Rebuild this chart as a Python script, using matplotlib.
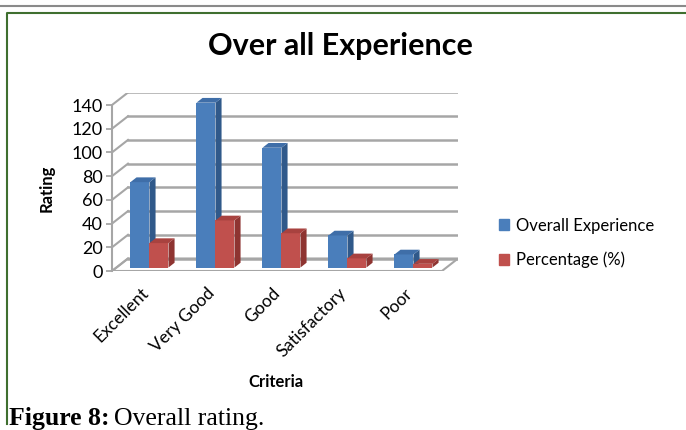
import matplotlib
matplotlib.use('Agg')
import matplotlib.pyplot as plt
from matplotlib.patches import Polygon, Patch
from matplotlib.lines import Line2D

# ---- data ----
categories = ['Excellent', 'Very Good', 'Good', 'Satisfactory', 'Poor']
overall = [72, 139, 101, 27, 11]
percentage = [20.6, 39.7, 28.9, 7.7, 3.1]
series_names = ['Overall Experience', 'Percentage (%)']
yticks = [0, 20, 40, 60, 80, 100, 120, 140]

# ---- style ----
BLUE, BLUE_SIDE, BLUE_TOP = '#4A7EBB', '#30598A', '#3F6EA8'
RED, RED_SIDE, RED_TOP = '#C0504D', '#8E3431', '#A8423F'
GRID = '#A6A6A6'

plt.rcParams['font.family'] = ['Lato', 'DejaVu Sans']

W, H = 686, 430
fig = plt.figure(figsize=(W / 100, H / 100), dpi=100)


def fx(px):
    return px / W


def fy(py):
    return 1 - py / H


# depth of the 3D box, in data units (px offsets / px per unit)
DX = 16 / 66
DY = 12.5 / (166 / 140)
BW = 0.288           # bar width (category units)
F0, F1 = 0.28, 0.66  # bar depth range as fraction of box depth

ax = fig.add_axes([fx(112), fy(271), fx(458) - fx(112), fy(92.5) - fy(271)])
n = len(categories)
ax.set_xlim(-0.5, n - 0.5 + DX)
ax.set_ylim(0, yticks[-1] + DY)

# floor
ax.add_patch(Polygon([(-0.5, 0), (n - 0.5, 0), (n - 0.5 + DX, DY), (-0.5 + DX, DY)],
                     closed=True, facecolor='white', edgecolor=GRID, lw=1.5, zorder=1))
# walls: gridlines on back wall + slanted lines on left wall
for v in yticks:
    ax.plot([-0.5 + DX, n - 0.5 + DX], [v + DY, v + DY], color=GRID, lw=1.8, zorder=1)
    ax.plot([-0.5, -0.5 + DX], [v, v + DY], color=GRID, lw=1.5, zorder=1)


def bar3d(x0, h, face, side, top):
    x = x0 + F0 * DX
    b = F0 * DY
    ddx = (F1 - F0) * DX
    ddy = (F1 - F0) * DY
    ax.bar(x, h, width=BW, bottom=b, align='edge', color=face, lw=0, zorder=3)
    ax.add_patch(Polygon([(x + BW, b), (x + BW + ddx, b + ddy),
                          (x + BW + ddx, b + h + ddy), (x + BW, b + h)],
                         closed=True, facecolor=side, lw=0, zorder=3))
    ax.add_patch(Polygon([(x, b + h), (x + ddx, b + h + ddy),
                          (x + BW + ddx, b + h + ddy), (x + BW, b + h)],
                         closed=True, facecolor=top, lw=0, zorder=3))


for i in range(n):
    bar3d(i - BW, overall[i], BLUE, BLUE_SIDE, BLUE_TOP)
    bar3d(i, percentage[i], RED, RED_SIDE, RED_TOP)

# axes
for s in ['top', 'right', 'bottom']:
    ax.spines[s].set_visible(False)
ax.spines['left'].set_bounds(0, yticks[-1])
ax.spines['left'].set_color(GRID)
ax.spines['left'].set_linewidth(1.5)
ax.set_yticks(yticks)
ax.tick_params(axis='y', length=4.5, width=1.3, color=GRID, labelsize=13, pad=2)
ax.set_xticks([i + 0.1 for i in range(n)])
ax.set_xticklabels(categories, rotation=45, ha='right', va='top')
ax.tick_params(axis='x', length=0, labelsize=12.5, pad=10)

ax.set_ylabel('Rating', fontsize=12, fontweight='bold', va='center')
ax.yaxis.set_label_coords((47 - 112) / 346, (271 - 188) / 178.5)
ax.set_xlabel('Criteria', fontsize=12, fontweight='bold', va='center')
ax.xaxis.set_label_coords((276 - 112) / 346, (271 - 382) / 178.5)

fig.text(fx(340), fy(46), 'Over all Experience', ha='center', va='center',
         fontsize=22, fontweight='bold')

handles = [Patch(color=BLUE), Patch(color=RED)]
fig.legend(handles, series_names, loc='center left',
           bbox_to_anchor=(fx(484), fy(243)), frameon=False, fontsize=12,
           handlelength=0.6, handleheight=0.6, handletextpad=0.45, labelspacing=1.1)

# page frame
fig.add_artist(Line2D([0, 1], [fy(6), fy(6)], color='#8A8A8A', lw=1.5,
                      transform=fig.transFigure))
fig.add_artist(Line2D([fx(7), fx(7), 1], [fy(424), fy(13), fy(13)], color='#3F6F2F',
                      lw=1.5, transform=fig.transFigure))

# caption: bold "Figure 8:" followed by regular text
cap = fig.text(fx(9), fy(425), 'Figure 8:', fontsize=18.5, fontweight='bold',
               family='Liberation Serif', va='baseline')
r = fig.canvas.get_renderer()
ext = cap.get_window_extent(renderer=r)
fig.text(ext.x1 / W + fx(5), fy(425), 'Overall rating.', fontsize=18.5,
         family='Liberation Serif', va='baseline')

fig.savefig('out.png', dpi=100)
